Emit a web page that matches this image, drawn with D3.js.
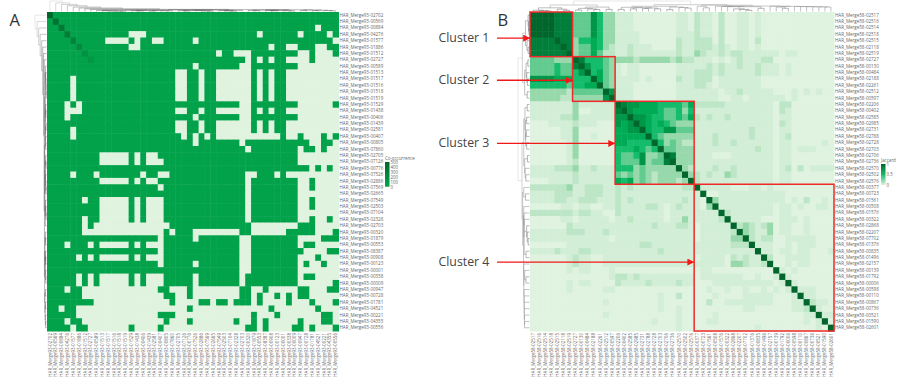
<!DOCTYPE html>
<html>
<head>
<meta charset="utf-8">
<script src="https://cdn.jsdelivr.net/npm/d3@7"></script>
<style>
body{margin:0;background:#fff}
text{font-family:"Open Sans",sans-serif}
</style>
</head>
<body>
<script>
// sample ids, same order on rows and columns
const idsA=["02702","00569","00884","04276","01577","01886","01512","02727","00589","01513","01517","01516","01518","01519","01529","01438","00406","01439","02581","00407","00805","07860","02705","07126","00776","07526","02886","07569","02665","07549","02503","07104","02328","02703","00320","01879","00553","08387","00908","00123","00001","00338","00009","00947","00728","01781","04521","00221","04355","00556"];
const idsB=["02517","02516","02514","02518","02515","02118","02519","02727","00130","00484","02188","02261","02512","00597","02206","00402","02585","02985","02731","02788","02728","02703","02706","02736","02570","02502","02576","00377","00723","01561","00508","01576","00322","02868","02207","07702","01376","00835","01496","02157","00139","01792","00006","00598","00110","00867","00736","00521","01590","02601"];

// A: columns (right of the diagonal) with zero co-occurrence, one line per row
const zeroA=["","","46","14-16 36 43 48","10-13 15 18 19 25 49","14 15 38 41 42 46 47","29 32-34 43 44 46-48","34 36 38 41 42 43 44 46-49","25 33 34 43-49",
"22 23 26 29-34 36 38 41-49","22 23 26 29-34 36 38 41-49","22 23 26 29-34 36 38 41-49","22 23 26 29-34 36 38 41-49","22 23 26 29-34 36 38 41-49",
"33 34 43-48","22 23 26 29-34 36 38 41-49","25 33 34 43-49","22 23 26 29-34 36 38 41-49","22 23 26 29-34 36 38 41-49",
"23 25 27 29-39 41 42 44-46 48","25 33 45 46 49","34 43 46 48 49","43-49","43-49","45 47 49","34 35 39 41-49","34 43 44 46-49","34 43 44 46-49","34 43-49","34 43 44 46-49","34 43 44 46-49","34 43-49","34 43 44 46 47 49",
"35-42 46-49","35-40 46-48","43-46","43 46-49","44-47","43-45 47-49","43 45 46 48 49","43-49","43 46-49","43-48","45-47","45-49","46-48","47-49","49","49",""];
const diagA=[500,400,360,320,260,210,170,130];
const baseA=40;

// B: Jaccard level 0-9, lower triangle (rows 0..49, columns 0..row)
const lowerB=[
"9","99","999","9999","8888 9","8888 8 9","8888 8 8 9",
"4444333 9","4444544 8 9","4444544 5 7 9","7777666 5 5 5 9","5555554 5 5 6 6 9","3333332 4 4 4 4 4 9","3333322 3 3 3 3 3 7 9",
"1111111 3 1 1 1 1 1 1 9",
"1111111 3 0 0 1 1 1 1 8 9",
"1111122 3 1 1 1 1 1 1 7 7 9",
"0001111 2 1 1 1 0 0 0 7 6 7 9",
"0000011 3 0 0 0 0 0 0 6 6 7 7 9",
"0000011 3 0 0 1 0 0 0 6 6 6 6 6 9",
"0000001 3 0 0 0 0 0 0 6 6 5 5 5 5 9",
"0000001 3 0 0 0 0 0 0 5 5 5 6 5 4 5 9",
"0000001 3 0 0 0 0 0 0 5 4 4 5 7 3 3 4 9",
"0000001 2 0 0 0 0 0 0 5 4 4 4 7 3 4 4 8 9",
"1111222 3 1 1 2 1 1 1 5 5 5 3 4 3 3 3 3 3 9",
"1111111 2 1 1 1 1 1 1 4 3 4 3 4 3 2 3 3 3 3 9",
"0001111 2 1 1 1 1 1 1 6 5 6 3 4 3 2 3 3 3 2 3 9",
"2222223 1 1 2 2 2 1 1 2 1 2 1 1 1 1 1 1 1 1 2 2 9",
"1111222 1 1 2 2 2 1 1 2 1 1 1 1 1 1 1 1 1 1 1 1 1 9",
"1111221 1 2 2 2 1 1 1 2 1 2 1 1 1 1 1 1 1 1 2 1 1 0 9",
"0000011 0 1 1 0 0 1 1 2 1 1 1 1 2 2 1 0 1 2 1 1 1 0 3 9",
"2222222 1 2 2 1 1 0 0 2 1 1 1 1 1 1 1 0 1 1 1 1 1 1 1 1 9",
"0000011 0 1 1 1 1 1 0 1 1 2 1 1 1 1 1 0 1 1 3 1 1 1 1 1 2 9",
"0000002 1 1 1 1 1 1 1 1 1 1 1 1 1 2 1 1 1 2 2 1 0 1 1 1 1 1 9",
"1111112 2 2 1 1 1 2 1 1 1 1 1 1 1 1 1 1 1 1 1 1 0 1 1 1 1 1 2 9",
"1111111 1 1 1 1 1 1 0 1 1 1 1 1 1 1 1 1 1 1 1 1 0 1 1 1 1 1 3 3 9",
"0000001 1 1 1 1 1 1 1 1 1 1 1 2 2 1 1 1 1 1 1 1 1 1 1 1 1 1 2 2 2 9",
"1111211 1 2 2 1 1 1 1 1 1 1 1 1 1 1 2 1 1 1 1 1 1 1 1 1 1 1 1 1 1 1 9",
"0000001 2 1 1 0 0 1 1 1 1 1 1 1 1 1 1 1 1 1 1 1 0 1 1 1 1 0 2 1 2 1 1 9",
"0000001 2 1 1 0 0 1 1 1 1 1 1 1 1 1 1 1 1 1 1 1 1 1 1 1 1 0 3 3 2 1 1 2 9",
"0000001 0 1 1 0 0 0 1 0 0 0 0 0 0 0 0 0 0 0 0 0 0 1 1 0 0 0 0 0 0 0 0 0 0 9",
"0000000 0 0 0 0 0 0 1 2 2 1 2 1 1 1 1 1 1 1 1 1 0 1 1 1 1 1 1 1 0 0 1 0 0 1 9",
"0000001 0 1 1 0 0 0 0 2 1 1 1 1 2 1 1 1 1 2 1 1 0 0 0 1 1 1 1 1 1 1 1 1 1 0 1 9",
"0000001 0 0 0 0 0 1 1 0 0 0 0 0 0 0 0 0 0 0 0 0 0 0 1 0 0 1 0 0 1 0 0 1 0 1 0 1 9",
"0000000 0 0 0 0 0 0 0 0 0 0 0 0 0 0 1 0 0 2 0 0 0 0 0 1 0 0 0 0 1 1 1 1 1 0 0 0 1 9",
"0000000 0 0 0 0 0 1 0 0 0 0 0 0 0 0 1 0 0 0 0 0 0 0 2 0 0 1 1 1 1 1 1 1 1 0 0 0 1 1 9",
"0000000 0 0 0 0 0 0 0 0 0 0 0 0 0 0 1 0 0 1 0 0 0 0 0 0 0 0 0 0 1 1 0 0 0 0 0 0 1 1 2 9",
"0000000 0 0 0 0 0 1 0 0 0 0 0 0 0 0 0 0 0 1 0 0 0 0 0 1 0 0 0 0 0 0 0 0 0 0 0 0 0 0 1 1 9",
"0000000 0 0 0 0 0 0 0 0 0 0 0 0 0 1 0 0 0 1 0 0 0 0 1 1 0 0 0 0 0 0 0 0 0 0 0 0 0 0 1 0 1 9",
"0000000 0 0 0 0 0 0 0 0 0 0 0 0 0 0 0 0 0 1 0 0 0 0 0 0 0 0 0 0 0 0 1 0 0 0 0 0 0 0 0 0 1 0 9"
].map(s=>s.replace(/ /g,""));
const levelColors=["#e0f3e0","#d3eed6","#bde6c7","#98d9ac","#62cb8f","#14bc6c","#00ab55","#009647","#007f3a","#00662c"];

// [first leaf, last leaf, height] for each merge of the trees
const treeA=[[0,49,1],[1,49,.82],[2,49,.68],[3,49,.55],[4,49,.42],[5,49,.33],[6,49,.25],[7,49,.2],[8,49,.18],[8,33,.15],[8,21,.12],[8,13,.1],[9,13,.07],[10,13,.06],[11,13,.05],[12,13,.04],[14,21,.1],[14,16,.08],[15,16,.06],[17,21,.09],[17,18,.05],[19,21,.08],[20,21,.07],[22,33,.13],[22,28,.1],[22,24,.08],[23,24,.05],[25,28,.09],[26,28,.06],[27,28,.05],[29,33,.11],[29,32,.09],[30,32,.06],[31,32,.05],[34,49,.16],[34,42,.13],[34,36,.1],[35,36,.08],[37,42,.1],[37,39,.09],[38,39,.07],[40,42,.08],[41,42,.06],[43,49,.14],[43,44,.1],[45,49,.12],[45,46,.09],[47,49,.1],[48,49,.07]];
const treeB=[[0,49,1],[0,13,.62],[14,49,.65],[0,6,.35],[0,3,.12],[1,3,.08],[2,3,.05],[4,6,.22],[5,6,.12],[7,13,.42],[7,11,.3],[7,8,.14],[9,11,.24],[10,11,.18],[12,13,.2],[14,26,.5],[14,21,.4],[14,15,.2],[16,21,.36],[16,17,.25],[18,21,.33],[18,19,.28],[20,21,.25],[22,26,.42],[22,23,.18],[24,26,.38],[25,26,.32],[27,49,.6],[27,29,.5],[28,29,.35],[30,49,.52],[30,38,.5],[31,38,.48],[32,38,.46],[33,36,.25],[34,36,.2],[35,36,.12],[37,38,.3],[39,49,.5],[40,49,.49],[40,42,.42],[41,42,.3],[43,49,.48],[44,49,.47],[45,49,.46],[46,49,.45],[47,49,.44],[48,49,.43]];

// cluster ranges on panel B, and where the arrow text sits
const clusterNames=["Cluster 1","Cluster 2","Cluster 3","Cluster 4"];
const clusterFrom=[0,7,14,27];
const clusterTo=[6,13,26,49];
const clusterTextRow=[4.1,10.7,20.6,39.2];

const svg=d3.select("body").append("svg")
  .attr("width",904)
  .attr("height",378);

const defs=svg.append("defs");
defs.append("marker")
  .attr("id","tip")
  .attr("viewBox","0 0 10 10")
  .attr("refX",9).attr("refY",5)
  .attr("markerWidth",7).attr("markerHeight",7)
  .attr("markerUnits","userSpaceOnUse")
  .attr("orient","auto")
  .append("path").attr("d","M0,0L10,5L0,10Z").attr("fill","#f01818");

// "10-13 15" -> [10,11,12,13,15]
function parseCols(s){
  const out=[];
  s.split(" ").filter(t=>t).forEach(t=>{
    const p=t.split("-").map(Number);
    d3.range(p[0],(p[1]===undefined?p[0]:p[1])+1).forEach(i=>out.push(i));
  });
  return out;
}

// matrix A
const matA=d3.range(50).map(()=>d3.range(50).map(()=>baseA));
zeroA.forEach((s,r)=>parseCols(s).forEach(c=>{matA[r][c]=0;matA[c][r]=0;}));
diagA.forEach((v,i)=>{matA[i][i]=v;});
// matrix B
const matB=d3.range(50).map(r=>d3.range(50).map(c=>{
  const a=Math.max(r,c),b=Math.min(r,c);
  return +lowerB[a][b];
}));

const colorA=d3.scaleLinear().domain([0,1,40,500]).range(["#e0f3df","#02a44c","#02a24b","#00662c"]);
const colorB=d3.scaleLinear().domain(d3.range(10)).range(levelColors);

function heatmap(opt){
  const g=svg.append("g");
  const x=d3.scaleBand().domain(opt.ids).range([opt.x0,opt.x1]);
  const y=d3.scaleBand().domain(opt.ids).range([opt.y0,opt.y1]);

  const cells=[];
  opt.mat.forEach((row,r)=>row.forEach((v,c)=>cells.push({r,c,v})));
  g.selectAll("rect").data(cells).enter().append("rect")
    .attr("x",d=>x(opt.ids[d.c]))
    .attr("y",d=>y(opt.ids[d.r]))
    .attr("width",x.bandwidth()+0.5)
    .attr("height",y.bandwidth()+0.5)
    .attr("fill",d=>opt.color(d.v));

  // row labels
  const ya=svg.append("g")
    .attr("transform","translate("+opt.x1+",0)")
    .call(d3.axisRight(y).tickSize(0).tickPadding(1).tickFormat(d=>opt.prefix+d));
  ya.select(".domain").remove();
  ya.selectAll("text").style("font-size","4.5px").attr("fill","#666");

  // column labels
  const xa=svg.append("g")
    .attr("transform","translate(0,"+opt.y1+")")
    .call(d3.axisBottom(x).tickSize(0).tickPadding(0).tickFormat(d=>opt.prefix+d));
  xa.select(".domain").remove();
  xa.selectAll("text")
    .style("font-size","4.5px")
    .attr("fill","#666")
    .attr("text-anchor","end")
    .attr("dx","-2")
    .attr("dy","1.6")
    .attr("y",0)
    .attr("x",0)
    .attr("transform","rotate(-90)");

  // dendrograms left and top
  drawTree(opt.tree,i=>y(opt.ids[i])+y.bandwidth()/2,opt.x0,opt.treeLeft,true);
  drawTree(opt.tree,i=>x(opt.ids[i])+x.bandwidth()/2,opt.y0,opt.treeTop,false);
}

function drawTree(tree,pos,base,size,isLeft){
  const h=d3.scaleLinear().domain([0,1]).range([base-0.5,base-size]);
  const shade=d3.scaleLinear().domain([0,.6,1]).range(["#555","#999","#ccc"]);
  const nodes=tree.map(t=>({a:t[0],b:t[1],h:t[2]})).sort((p,q)=>(p.b-p.a)-(q.b-q.a));
  const segs=[];
  nodes.forEach((n,i)=>{
    // children = biggest smaller ranges inside this one, plus single leaves
    const kids=[];
    let k=n.a;
    while(k<=n.b){
      let best=null;
      for(let j=i-1;j>=0;j--){
        if(nodes[j].a===k&&nodes[j].b<=n.b){best=nodes[j];break;}
      }
      if(best){kids.push({p:best.p,h:best.h});k=best.b+1;}
      else{kids.push({p:pos(k),h:0});k++;}
    }
    n.p=(kids[0].p+kids[kids.length-1].p)/2;
    kids.forEach(c=>segs.push({p1:c.p,p2:c.p,h1:c.h,h2:n.h,hh:n.h}));
    segs.push({p1:kids[0].p,p2:kids[kids.length-1].p,h1:n.h,h2:n.h,hh:n.h});
  });
  svg.append("g").selectAll("line").data(segs).enter().append("line")
    .attr("x1",d=>isLeft?h(d.h1):d.p1)
    .attr("x2",d=>isLeft?h(d.h2):d.p2)
    .attr("y1",d=>isLeft?d.p1:h(d.h1))
    .attr("y2",d=>isLeft?d.p2:h(d.h2))
    .attr("stroke",d=>shade(d.hh))
    .attr("stroke-width",0.5);
}

heatmap({ids:idsA,mat:matA,color:colorA,prefix:"HAR_Merge93-",x0:47,x1:338.5,y0:12,y1:331,tree:treeA,treeLeft:12,treeTop:11});
heatmap({ids:idsB,mat:matB,color:colorB,prefix:"HAR_Merge58-",x0:530,x1:834,y0:12,y1:331,tree:treeB,treeLeft:12,treeTop:11});

// red cluster boxes and arrows
const xB=d3.scaleLinear().domain([0,50]).range([530,834]);
const yB=d3.scaleLinear().domain([0,50]).range([12,331]);
const boxes=svg.append("g");
clusterNames.forEach((name,i)=>{
  boxes.append("rect")
    .attr("x",xB(clusterFrom[i]))
    .attr("y",yB(clusterFrom[i]))
    .attr("width",xB(clusterTo[i]+1)-xB(clusterFrom[i]))
    .attr("height",yB(clusterTo[i]+1)-yB(clusterFrom[i]))
    .attr("fill","none")
    .attr("stroke","#f02a2a")
    .attr("stroke-width",1.5);
  const ay=yB(clusterTextRow[i]);
  boxes.append("line")
    .attr("x1",497)
    .attr("x2",xB(clusterFrom[i])-0.5)
    .attr("y1",ay).attr("y2",ay)
    .attr("stroke","#f01818")
    .attr("stroke-width",1.3)
    .attr("marker-end","url(#tip)");
  svg.append("text")
    .attr("x",438.5)
    .attr("y",ay+4)
    .style("font-size","12.3px")
    .attr("fill","#444")
    .text(name);
});

// panel letters
svg.append("text").attr("x",9.5).attr("y",26).style("font-size","16.5px").attr("fill","#333").text("A");
svg.append("text").attr("x",497.5).attr("y",26).style("font-size","16.5px").attr("fill","#333").text("B");

// legends
function legend(id,title,x0,y0,y1,domain,ticks,stops,fmt){
  const lg=defs.append("linearGradient").attr("id",id)
    .attr("x1",0).attr("y1",1).attr("x2",0).attr("y2",0);
  stops.forEach(s=>lg.append("stop").attr("offset",s[0]).attr("stop-color",s[1]));
  svg.append("rect").attr("x",x0).attr("y",y0).attr("width",4.5).attr("height",y1-y0).attr("fill","url(#"+id+")");
  svg.append("text").attr("x",x0).attr("y",y0-2.5).style("font-size","4.4px").attr("fill","#666").text(title);
  const s=d3.scaleLinear().domain(domain).range([y1,y0]);
  const ax=svg.append("g").attr("transform","translate("+(x0+4.5)+",0)")
    .call(d3.axisRight(s).tickValues(ticks).tickSize(0).tickPadding(1).tickFormat(fmt));
  ax.select(".domain").remove();
  ax.selectAll("text").style("font-size","4.4px").attr("fill","#666");
}
legend("gA","Co-occurrence",385,162,187,[0,500],[0,100,200,300,400,500],
  [[0,"#e0f3df"],[0.03,"#02a44c"],[1,"#00662c"]],d3.format("d"));
legend("gB","Jaccard",881,164,185,[0,1],[0,0.5,1],
  [[0,"#e0f3e0"],[0.5,"#14bc6c"],[1,"#00662c"]],d=>d);
</script>
</body>
</html>
